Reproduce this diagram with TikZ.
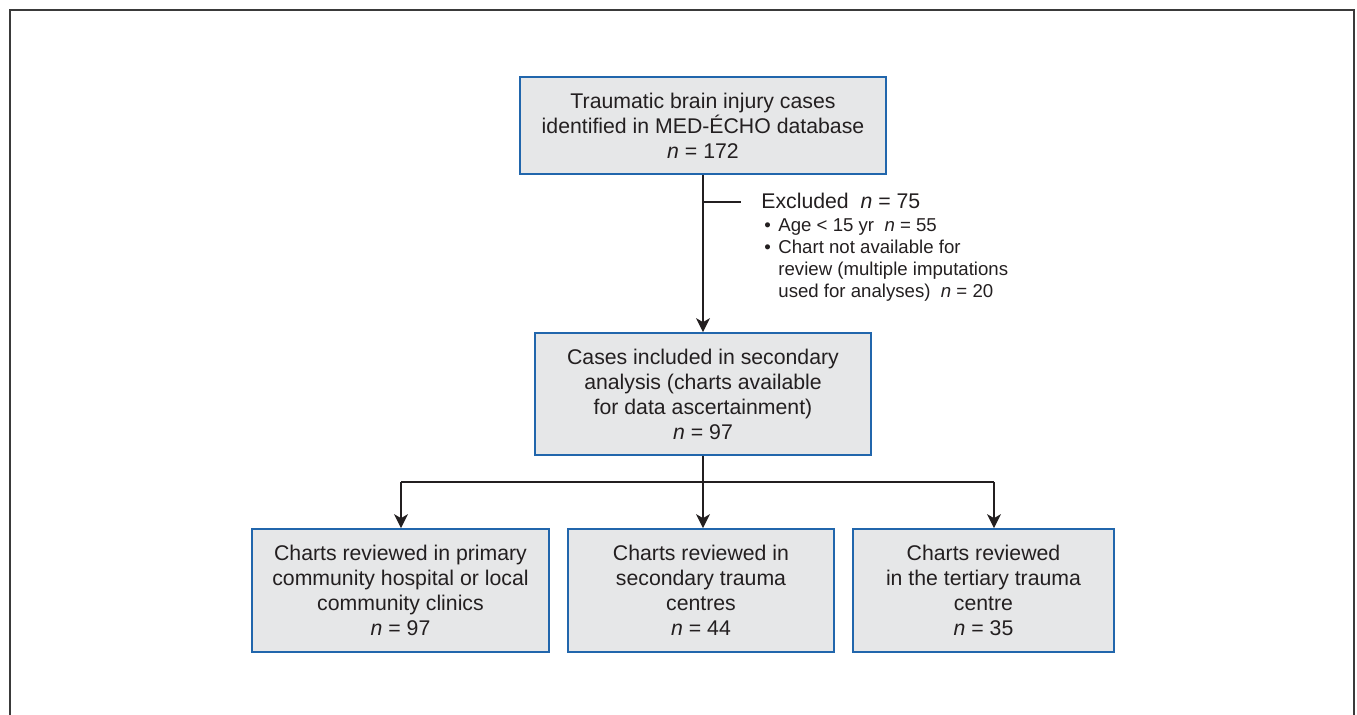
\documentclass[tikz,border=0pt]{standalone}
\usepackage{fontspec}
\setmainfont{Liberation Sans}
\usepackage{tikz}
\usetikzlibrary{positioning,arrows.meta,calc}
\definecolor{boxblue}{HTML}{2166AC}
\definecolor{boxgray}{HTML}{E6E7E8}
\definecolor{inkgray}{HTML}{231F20}
\definecolor{framegray}{HTML}{3A3A3A}
\tikzset{
  flowbox/.style={draw=boxblue, line width=1pt, fill=boxgray, text=inkgray,
    align=center, inner sep=0pt,
    font=\fontsize{12.1}{14.2}\selectfont},
  flowline/.style={inkgray, line width=0.75pt},
  flowarrow/.style={flowline, -{Stealth[length=0.28cm,width=0.28cm,inset=0.08cm]}}
}

\begin{document}
\begin{tikzpicture}[x=0.02cm,y=-0.02cm]
        \useasboundingbox (0,0) rectangle (1357,715);
        % Outer frame (open at the bottom)
        \draw[framegray, line width=1.1pt] (10,715) -- (10,10) -- (1354,10) -- (1354,715);
        % Boxes
        \node[flowbox, minimum width=7.32cm, minimum height=1.94cm] (identified) at (703,125.5)
          {Traumatic brain injury cases\\identified in MED-ÉCHO database\\\textit{n} = 172};
        \node[flowbox, minimum width=6.72cm, minimum height=2.44cm] (included) at (703,394)
          {Cases included in secondary\\analysis (charts available\\for data ascertainment)\\\textit{n} = 97};
        \node[flowbox, minimum width=5.94cm, minimum height=2.46cm] (primary) at (400.5,590.5)
          {Charts reviewed in primary\\community hospital or local\\community clinics\\\textit{n} = 97};
        \node[flowbox, minimum width=5.32cm, minimum height=2.46cm] (secondary) at (701,590.5)
          {Charts reviewed in\\secondary trauma\\centres\\\textit{n} = 44};
        \node[flowbox, minimum width=5.22cm, minimum height=2.46cm] (tertiary) at (983.5,590.5)
          {Charts reviewed\\in the tertiary trauma\\centre\\\textit{n} = 35};
        % Exclusions
        \node[anchor=west, inner sep=0pt, text=inkgray, font=\fontsize{12.1}{14.2}\selectfont]
          (excluded) at (761,201) {Excluded\ \ \textit{n} = 75};
        \node[anchor=north west, inner sep=0pt, text=inkgray, font=\fontsize{10.6}{12.5}\selectfont]
          (reasons) at (764,216)
          {\begin{tabular}{@{}l@{\hspace{4.3pt}}l@{}}
             \textbullet & Age < 15 yr\ \ \textit{n} = 55\\
             \textbullet & Chart not available for\\
                         & review (multiple imputations\\
                         & used for analyses)\ \ \textit{n} = 20
           \end{tabular}};
        \coordinate (branch) at (703,202);
        \draw[flowarrow] (identified) -- (included);
        \draw[flowline, shorten >=0.4cm] (branch) -- (branch -| excluded.west);
        % Split to the three sites
        \coordinate (split) at (703,482);
        \coordinate (splitleft) at (401,482);
        \coordinate (splitright) at (994,482);
        \draw[flowline, line width=0.9pt] (splitleft) -- (splitright);
        \draw[flowline] (included) -- (split);
        \draw[flowarrow] (splitleft) -- (splitleft |- primary.north);
        \draw[flowarrow] (split) -- (split |- secondary.north);
        \draw[flowarrow] (splitright) -- (splitright |- tertiary.north);
      \end{tikzpicture}
\end{document}
